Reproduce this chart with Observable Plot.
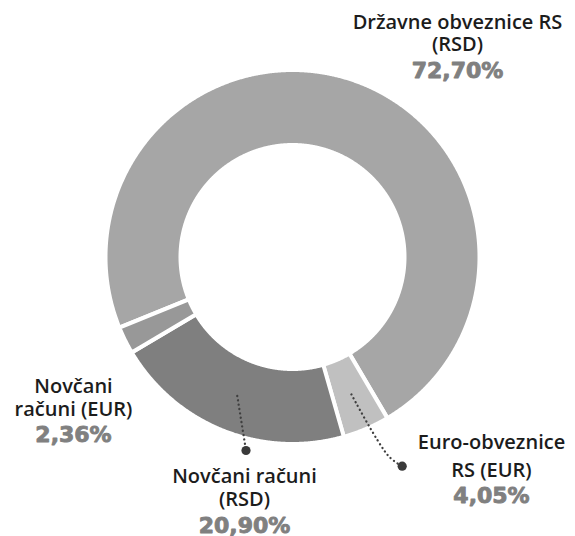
<!DOCTYPE html>
<html>
<head>
<meta charset="utf-8">
<script src="https://cdn.jsdelivr.net/npm/d3@7"></script>
<script src="https://cdn.jsdelivr.net/npm/@observablehq/plot@0.6"></script>
<style>
  html, body { margin: 0; padding: 0; background: #fff; }
  #chart svg { display: block; }
</style>
</head>
<body>
<div id="chart"></div>
<script>
// ---- data ----
const categories = ["Državne obveznice RS (RSD)", "Euro-obveznice RS (EUR)", "Novčani računi (RSD)", "Novčani računi (EUR)"];
const values = [72.70, 4.05, 20.90, 2.36];
const pctLabels = ["72,70%", "4,05%", "20,90%", "2,36%"];
const labelLines = [["Državne obveznice RS", "(RSD)"], ["Euro-obveznice", "RS (EUR)"], ["Novčani računi", "(RSD)"], ["Novčani", "računi (EUR)"]];
const colors = ["#a6a6a6", "#c0c0c0", "#7f7f7f", "#989898"];

// ---- layout (pixels relative to donut centre, y downwards) ----
const startDeg = -112.2;
const outerR = 187, innerR = 112;
const labelLayout = [
  {x: 165, y: -229, gap: 22, pctGap: 27.5},
  {x: 199, y: 186.5, gap: 28, pctGap: 31.5},
  {x: -48, y: 223.5, gap: 23, pctGap: 29},
  {x: -219, y: 133.5, gap: 23, pctGap: 28}
];
const leaderEnds = {1: [[96, 199], [109.7, 209.2]], 2: [[-46.5, 193.5]]};

// ---- geometry ----
const arcs = d3.pie().sort(null)
  .startAngle(startDeg * Math.PI / 180)
  .endAngle(startDeg * Math.PI / 180 + 2 * Math.PI)(values);

const slicePts = [];
arcs.forEach((a, i) => {
  const n = Math.max(4, Math.ceil((a.endAngle - a.startAngle) / (0.25 * Math.PI / 180)));
  for (let k = 0; k <= n; k++) {
    const t = a.startAngle + (a.endAngle - a.startAngle) * k / n;
    slicePts.push({cat: categories[i], x: outerR * Math.sin(t), y: -outerR * Math.cos(t)});
  }
  for (let k = n; k >= 0; k--) {
    const t = a.startAngle + (a.endAngle - a.startAngle) * k / n;
    slicePts.push({cat: categories[i], x: innerR * Math.sin(t), y: -innerR * Math.cos(t)});
  }
});

const leaderPts = [];
const leaderDots = [];
Object.entries(leaderEnds).forEach(([idx, pts]) => {
  const a = arcs[+idx];
  const mid = (a.startAngle + a.endAngle) / 2;
  const rc = 149.5;
  leaderPts.push({cat: categories[idx], x: rc * Math.sin(mid), y: -rc * Math.cos(mid)});
  pts.forEach(p => leaderPts.push({cat: categories[idx], x: p[0], y: p[1]}));
  const last = pts[pts.length - 1];
  leaderDots.push({x: last[0], y: last[1]});
});

const titleFs = 20, pctFs = 22;
const pctRows = [];
const titleMarks = labelLines.map((lines, i) => {
  const L = labelLayout[i];
  pctRows.push({text: pctLabels[i], x: L.x, y: L.y + (lines.length - 1) * L.gap + L.pctGap});
  return Plot.text([{text: lines.join("\n"), x: L.x, y: L.y}], {
    x: "x", y: "y", text: "text", lineAnchor: "top", lineHeight: L.gap / titleFs,
    fontSize: titleFs, fontFamily: "Open Sans", fontWeight: 600, fill: "#1c1c1c",
    textAnchor: "middle", dy: -0.71 * titleFs
  });
});

const chart = Plot.plot({
  width: 575,
  height: 536,
  margin: 0,
  x: {domain: [-292, 283], axis: null},
  y: {domain: [279.5, -256.5], axis: null},
  color: {domain: categories, range: colors},
  style: {background: "#fff"},
  marks: [
    Plot.line(slicePts, {x: "x", y: "y", z: "cat", fill: "cat", stroke: "#fff", strokeWidth: 4, curve: "linear-closed"}),
    Plot.line(leaderPts, {x: "x", y: "y", z: "cat", stroke: "#3f3f3f", strokeWidth: 2.3, strokeDasharray: "0.1,4.3", strokeLinecap: "round", curve: "catmull-rom"}),
    Plot.dot(leaderDots, {x: "x", y: "y", r: 4.6, fill: "#3a3a3a", stroke: "none"}),
    ...titleMarks,
    Plot.text(pctRows, {x: "x", y: "y", text: "text", fontSize: pctFs, fontFamily: "DejaVu Sans", fontWeight: "bold", fill: "#808080", stroke: "#808080", strokeWidth: 0.9, textAnchor: "middle", dy: -0.32 * pctFs})
  ]
});
document.getElementById("chart").appendChild(chart);
</script>
</body>
</html>
